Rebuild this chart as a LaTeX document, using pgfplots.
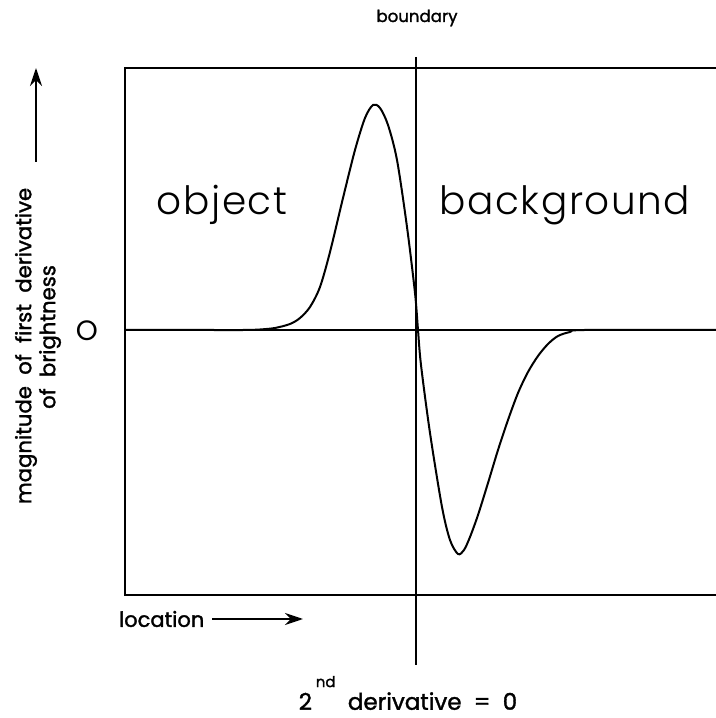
\documentclass[border=0pt]{standalone}
\usepackage{fontspec}
\setmainfont{Poppins}
\newfontfamily\bigfont{Poppins Light}[LetterSpace=4]
\newfontfamily\smallfont{Poppins}[FakeBold=1.5]
\usepackage{pgfplots}
\pgfplotsset{compat=1.18}
\usetikzlibrary{arrows.meta}
\begin{document}
\begin{tikzpicture}
\useasboundingbox (0,0) rectangle (358pt,359pt);
\begin{axis}[
  at={(62.5pt,61.5pt)}, anchor=south west,
  scale only axis, width=295.5pt, height=263.5pt,
  xmin=125, xmax=716, ymin=-265, ymax=262,
  axis lines=none, clip=false,
  every axis plot/.append style={line width=1pt, black},
]
% frame (open on the right)
\addplot[sharp plot] coordinates {(716,262) (125,262) (125,-265) (716,-265)};
% zero line
\addplot[sharp plot] coordinates {(125,0) (716,0)};
% boundary line
\addplot[sharp plot] coordinates {(416,273) (416,-335)};
% first derivative curve
\addplot[smooth, tension=0.5] coordinates {
(125,0) (200,0) (245,0) (260,0.5) (275,2) (290,6) (300,12) (310,23) (320,43)
(330,78) (343,132) (355,180) (365,212) (373,225) (380,222) (388,205) (397,170)
(407,103) (415,37) (418,0) (421,-35) (430,-103) (442,-177) (450,-210) (458,-224)
(464,-220) (470,-207) (478,-185) (488,-153) (498,-120) (508,-90) (518,-63)
(528,-42) (538,-26) (548,-14) (558,-6) (570,-2) (585,0) (716,0)};
\end{axis}
\begin{scope}[x=0.5pt, y=-0.5pt, shift={(0pt,359pt)}]
\node[font=\smallfont\fontsize{8.3}{9}\selectfont] at (417,18) {boundary};
\node[font=\bigfont\fontsize{19.5}{24}\selectfont] at (222,205) {object};
\node[font=\bigfont\fontsize{19.5}{24}\selectfont] at (565,205) {background};
\node[font=\fontsize{14}{16}\selectfont] at (87,331) {O};
\node[rotate=90, font=\smallfont\fontsize{10.6}{13}\selectfont] at (26,346) {magnitude\ \ of\ \ first\ \ derivative};
\node[rotate=90, font=\smallfont\fontsize{10.6}{13}\selectfont] at (50,337) {of\ \ brightness};
\draw[line width=1pt, -{Stealth[length=9pt,width=6pt]}] (36,162) -- (36,68);
\node[font=\smallfont\fontsize{10.5}{12}\selectfont, anchor=west] at (112,619) {location};
\draw[line width=1pt, -{Stealth[length=9pt,width=6pt]}] (212,619) -- (303,619);
\node[font=\smallfont\fontsize{11.5}{14}\selectfont] at (408,693) {2\,\raisebox{1.8ex}{\fontsize{7.5}{8}\selectfont nd}\ \ derivative\ \ =\ \ 0};
\end{scope}
\end{tikzpicture}
\end{document}
